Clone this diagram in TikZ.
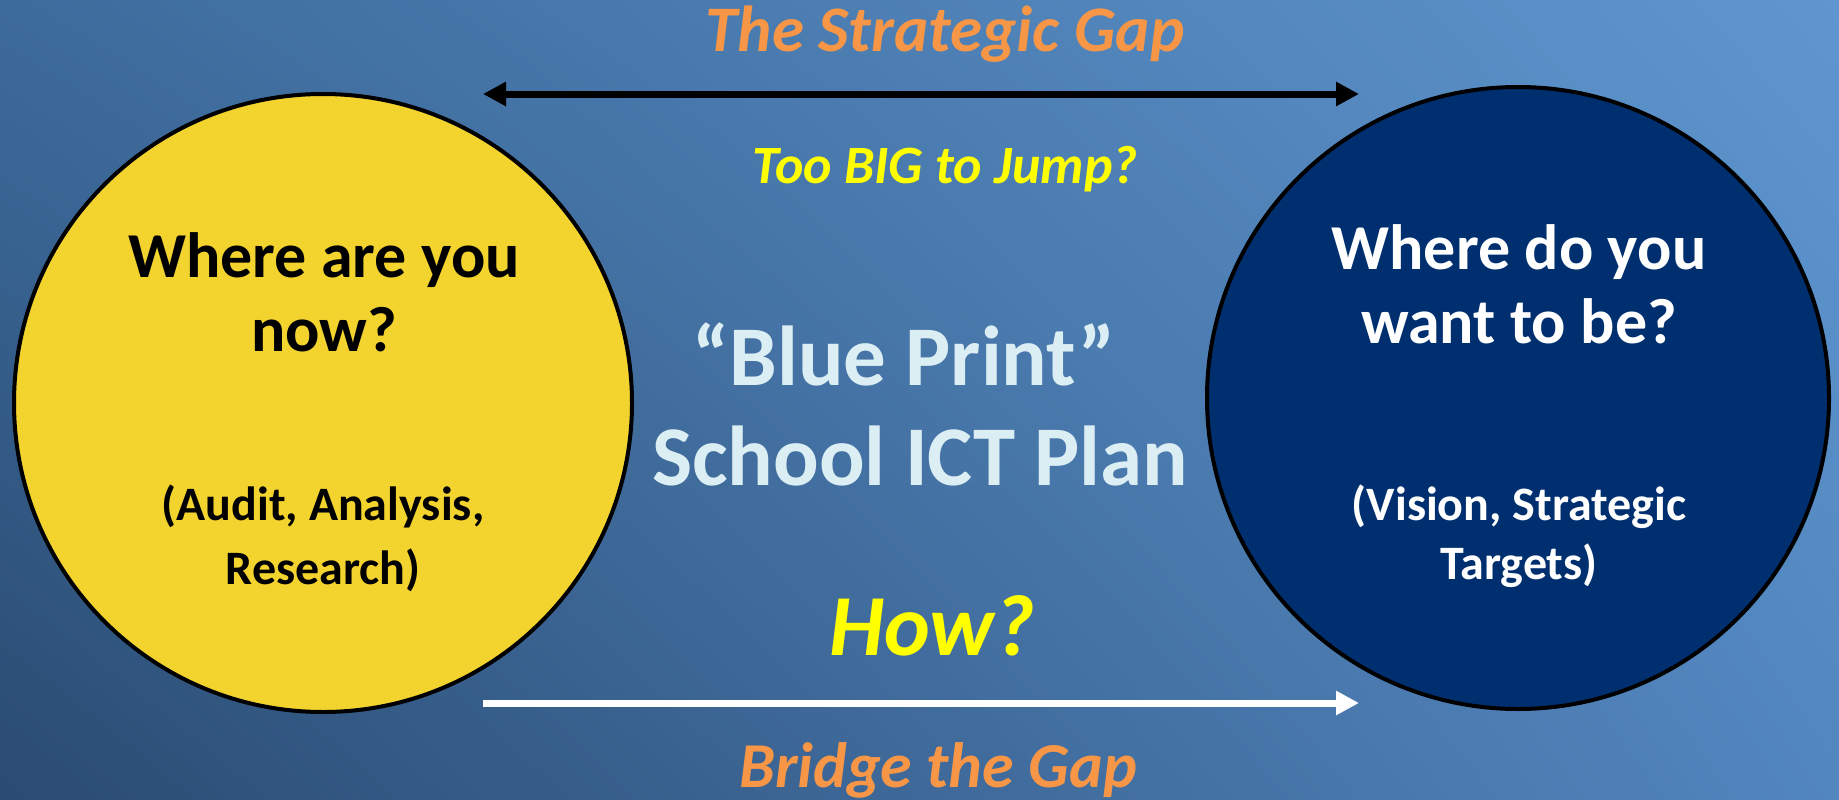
\documentclass[tikz,border=0pt]{standalone}
\usepackage{fontspec}
\setmainfont{Carlito}
\usetikzlibrary{arrows.meta,shadings}
\definecolor{bgTL}{HTML}{3D6B9C}
\definecolor{bgTR}{HTML}{5F96CF}
\definecolor{bgBL}{HTML}{2A4B72}
\definecolor{bgBR}{HTML}{5286BF}
\definecolor{sunY}{HTML}{F3D32E}
\definecolor{navyC}{HTML}{002F70}
\definecolor{orangeT}{HTML}{F79646}
\definecolor{yellowT}{HTML}{FFFF00}
\definecolor{paleT}{HTML}{DBEEF4}
\tikzset{
  bigcircle/.style={circle, draw=black, line width=4pt, inner sep=0pt, minimum size=#1},
  txt/.style={anchor=base, inner sep=0pt, font=\bfseries\fontsize{#1}{#1}\selectfont},
  itxt/.style={anchor=base, inner sep=0pt, font=\bfseries\itshape\fontsize{#1}{#1}\selectfont},
  gaparrow/.style={line width=7pt, {Triangle[length=23pt,width=23pt]}-{Triangle[length=23pt,width=23pt]}},
  howarrow/.style={line width=7pt, white, -{Triangle[length=23pt,width=23pt]}}
}
\begin{document}
\begin{tikzpicture}[x=1pt,y=-1pt]
\shade[upper left=bgTL, upper right=bgTR, lower left=bgBL, lower right=bgBR] (0,0) rectangle (1839,800);
\useasboundingbox (0,0) rectangle (1839,800);

% circles
\node[bigcircle=618pt, fill=sunY] (now) at (323,403) {};
\node[bigcircle=622pt, fill=navyC] (want) at (1518,398) {};

% left circle text
\node[txt=64] (l1) at (324,277) {Where are you};
\node[txt=64] (l2) at (324,351) {now?};
\node[txt=48] (l3) at (323,520) {(Audit, Analysis,};
\node[txt=48] (l4) at (323,584) {Research)};

% right circle text
\node[txt=64, text=white] (r1) at (1519,269) {Where do you};
\node[txt=64, text=white] (r2) at (1519,343) {want to be?};
\node[txt=48, text=white] (r3) at (1519,520) {(Vision, Strategic};
\node[txt=48, text=white] (r4) at (1519,579) {Targets)};

% center text
\node[txt=85, text=paleT] (bp) at (904,385) {“Blue Print”};
\node[txt=85, text=paleT] (plan) at (920,485) {School ICT Plan};

% top labels
\node[itxt=65, text=orangeT] (gap) at (945,52) {The Strategic Gap};
\node[itxt=54, text=yellowT] (big) at (945,183) {Too BIG to Jump?};

% bottom labels
\node[itxt=87, text=yellowT] (how) at (932,655) {How?};
\node[itxt=64, text=orangeT] (bridge) at (938,787) {Bridge the Gap};

% arrows
\coordinate (gapL) at (483,94);
\coordinate (gapR) at (1359,94);
\coordinate (howL) at (483,703);
\coordinate (howR) at (1359,703);
\draw[gaparrow] (gapL) -- (gapR);
\draw[howarrow] (howL) -- (howR);
\end{tikzpicture}
\end{document}
